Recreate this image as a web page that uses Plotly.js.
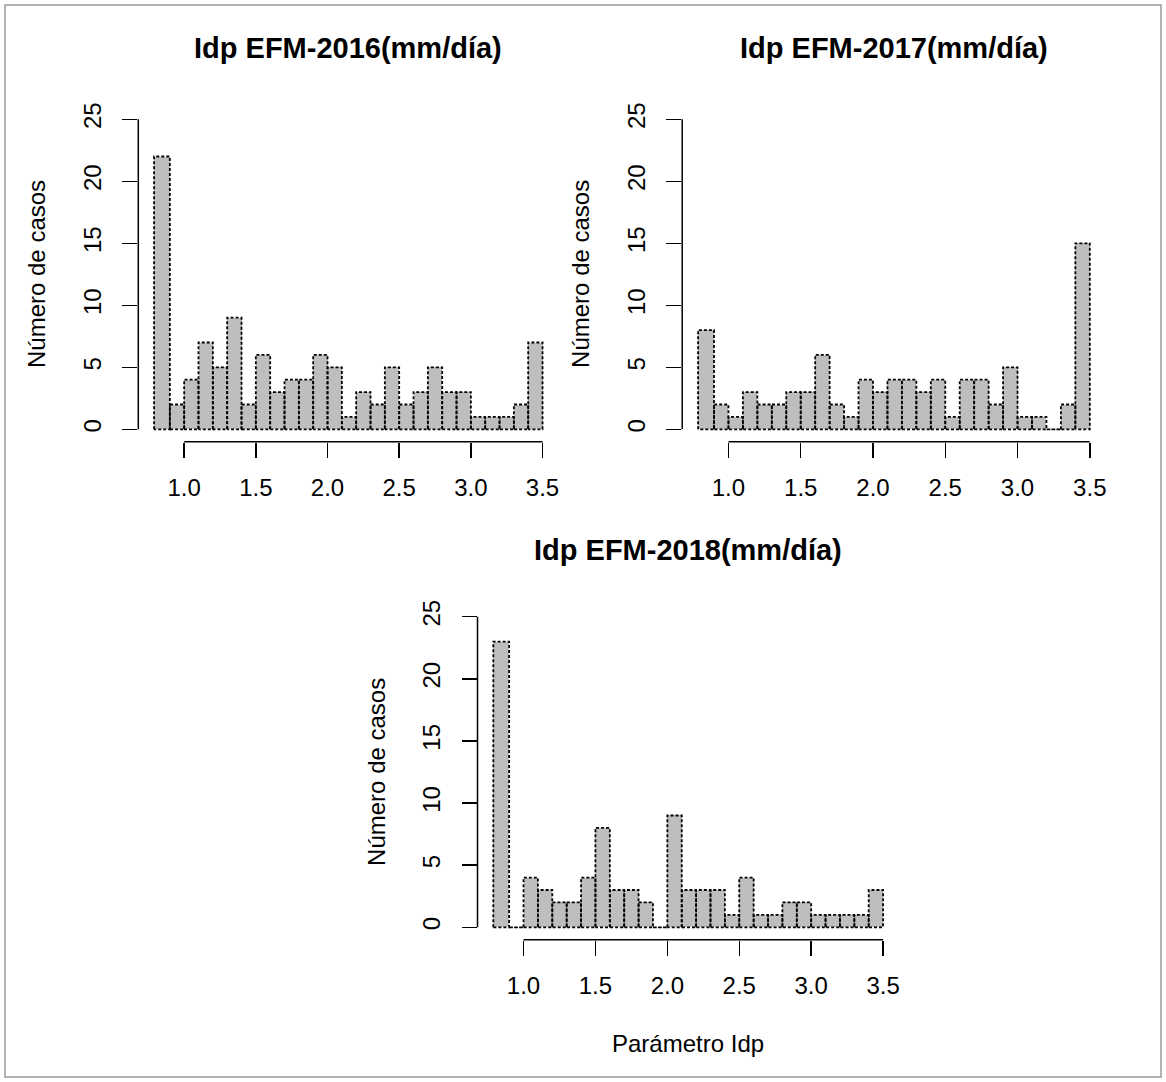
<!DOCTYPE html>
<html>
<head>
<meta charset="utf-8">
<script src="https://cdn.plot.ly/plotly-3.0.1.min.js"></script>
<style>
  html, body { margin: 0; padding: 0; background: #ffffff; }
  #chart { width: 1166px; height: 1082px; }
</style>
</head>
<body>
<div id="chart"></div>
<script>
// Bin edges of the Idp histograms (first bin starts at the sample minimum)
const binEdges = [0.79, 0.9, 1.0, 1.1, 1.2, 1.3, 1.4, 1.5, 1.6, 1.7, 1.8, 1.9, 2.0,
                  2.1, 2.2, 2.3, 2.4, 2.5, 2.6, 2.7, 2.8, 2.9, 3.0, 3.1, 3.2, 3.3, 3.4, 3.5];

// Number of cases per bin, January-February-March of each year
const counts2016 = [22, 2, 4, 7, 5, 9, 2, 6, 3, 4, 4, 6, 5, 1, 3, 2, 5, 2, 3, 5, 3, 3, 1, 1, 1, 2, 7];
const counts2017 = [8, 2, 1, 3, 2, 2, 3, 3, 6, 2, 1, 4, 3, 4, 4, 3, 4, 1, 4, 4, 2, 5, 1, 1, 0, 2, 15];
const counts2018 = [23, 0, 4, 3, 2, 2, 4, 8, 3, 3, 2, 0, 9, 3, 3, 3, 1, 4, 1, 1, 2, 2, 1, 1, 1, 1, 3];

const panelTitles = ["Idp EFM-2016(mm/día)", "Idp EFM-2017(mm/día)", "Idp EFM-2018(mm/día)"];
const yAxisLabel = "Número de casos";
const xAxisLabel = "Parámetro Idp";

const xTickVals = [1.0, 1.5, 2.0, 2.5, 3.0, 3.5];
const xTickText = ["1.0", "1.5", "2.0", "2.5", "3.0", "3.5"];
const yTickVals = [0, 5, 10, 15, 20, 25];
const yTickText = ["0", "5", "10", "15", "20", "25"];

// ---- layout geometry (pixels in a 1166 x 1082 figure) ----
const W = 1166, H = 1082;
const panels = [
  { counts: counts2016, left: 138.3, right: 558.3, top: 106.9, bottom: 441.7, titleY: 48 },
  { counts: counts2017, left: 682.2, right: 1105.7, top: 106.9, bottom: 441.7, titleY: 48 },
  { counts: counts2018, left: 477.5, right: 898.9, top: 604.3, bottom: 939.7, titleY: 550 }
];

const FONT = "Liberation Sans, Arial, Helvetica, sans-serif";
const BAR_FILL = "#bebebe";

const traces = [];
const shapes = [];
const annotations = [];
const layout = {
  width: W, height: H,
  margin: { l: 0, r: 0, t: 0, b: 0 },
  paper_bgcolor: "#ffffff",
  plot_bgcolor: "#ffffff",
  showlegend: false,
  font: { family: FONT, color: "#000000", size: 24 },
  bargap: 0
};

panels.forEach((p, i) => {
  const n = i + 1;
  const xa = n === 1 ? "x" : "x" + n;
  const ya = n === 1 ? "y" : "y" + n;

  // bin centres and widths from the edges
  const centers = [], widths = [];
  for (let k = 0; k < p.counts.length; k++) {
    centers.push((binEdges[k] + binEdges[k + 1]) / 2);
    widths.push(binEdges[k + 1] - binEdges[k]);
  }

  // filled bars
  traces.push({
    type: "bar", x: centers, y: p.counts, width: widths,
    xaxis: xa, yaxis: ya,
    marker: { color: BAR_FILL, line: { width: 0 } },
    hoverinfo: "x+y"
  });

  // dotted outline of every bar
  const ox = [], oy = [];
  for (let k = 0; k < p.counts.length; k++) {
    const a = binEdges[k], b = binEdges[k + 1], h = p.counts[k];
    ox.push(a, a, b, b, a, null);
    oy.push(0, h, h, 0, 0, null);
  }
  traces.push({
    type: "scatter", mode: "lines", x: ox, y: oy,
    xaxis: xa, yaxis: ya,
    line: { color: "#000000", width: 1.8, dash: "3px,2px" },
    connectgaps: false, hoverinfo: "skip"
  });

  const xDomain = [p.left / W, p.right / W];
  const yDomain = [1 - p.bottom / H, 1 - p.top / H];

  layout[n === 1 ? "xaxis" : "xaxis" + n] = {
    domain: xDomain, anchor: ya,
    range: [0.68, 3.61],
    tickmode: "array", tickvals: xTickVals, ticktext: xTickText,
    ticks: "outside", ticklen: 15, tickwidth: 1.5, tickcolor: "#000000",
    ticklabelstandoff: 9,
    tickfont: { family: FONT, size: 24, color: "#000000" },
    showline: false, showgrid: false, zeroline: false, fixedrange: true
  };
  layout[n === 1 ? "yaxis" : "yaxis" + n] = {
    domain: yDomain, anchor: xa,
    range: [-1, 26],
    tickmode: "array", tickvals: yTickVals, ticktext: yTickText,
    tickangle: -90,
    ticks: "outside", ticklen: 15, tickwidth: 1.5, tickcolor: "#000000",
    ticklabelstandoff: 12,
    tickfont: { family: FONT, size: 24, color: "#000000" },
    showline: false, showgrid: false, zeroline: false, fixedrange: true
  };

  // axis lines spanning only the labelled ticks
  shapes.push({
    type: "line", xref: xa + " domain", yref: ya,
    x0: 0, x1: 0, y0: yTickVals[0], y1: yTickVals[yTickVals.length - 1],
    line: { color: "#000000", width: 1.5 }
  });
  shapes.push({
    type: "line", xref: xa, yref: ya + " domain",
    x0: xTickVals[0], x1: xTickVals[xTickVals.length - 1], y0: 0, y1: 0,
    line: { color: "#000000", width: 1.5 }
  });

  // panel title
  annotations.push({
    text: "<b>" + panelTitles[i] + "</b>",
    xref: "paper", yref: "paper",
    x: (p.left + p.right) / 2 / W, y: 1 - p.titleY / H,
    xanchor: "center", yanchor: "middle", showarrow: false,
    font: { family: FONT, size: 29, color: "#000000" }
  });

  // y-axis label
  annotations.push({
    text: yAxisLabel,
    xref: "paper", yref: "paper",
    x: (p.left - 101.6) / W, y: 1 - ((p.top + p.bottom) / 2) / H,
    xanchor: "center", yanchor: "middle", textangle: -90, showarrow: false,
    font: { family: FONT, size: 24, color: "#000000" }
  });
});

// x-axis label under the bottom panel
annotations.push({
  text: xAxisLabel,
  xref: "paper", yref: "paper",
  x: (panels[2].left + panels[2].right) / 2 / W, y: 1 - 1043 / H,
  xanchor: "center", yanchor: "middle", showarrow: false,
  font: { family: FONT, size: 24, color: "#000000" }
});

// thin frame around the whole figure
shapes.push({
  type: "rect", xref: "paper", yref: "paper",
  x0: 5 / W, x1: 1161 / W, y0: 1 - 1077 / H, y1: 1 - 5 / H,
  line: { color: "#9a9a9a", width: 1.5 }, fillcolor: "rgba(0,0,0,0)"
});

layout.shapes = shapes;
layout.annotations = annotations;

Plotly.newPlot("chart", traces, layout, { displayModeBar: false, staticPlot: true });
</script>
</body>
</html>
